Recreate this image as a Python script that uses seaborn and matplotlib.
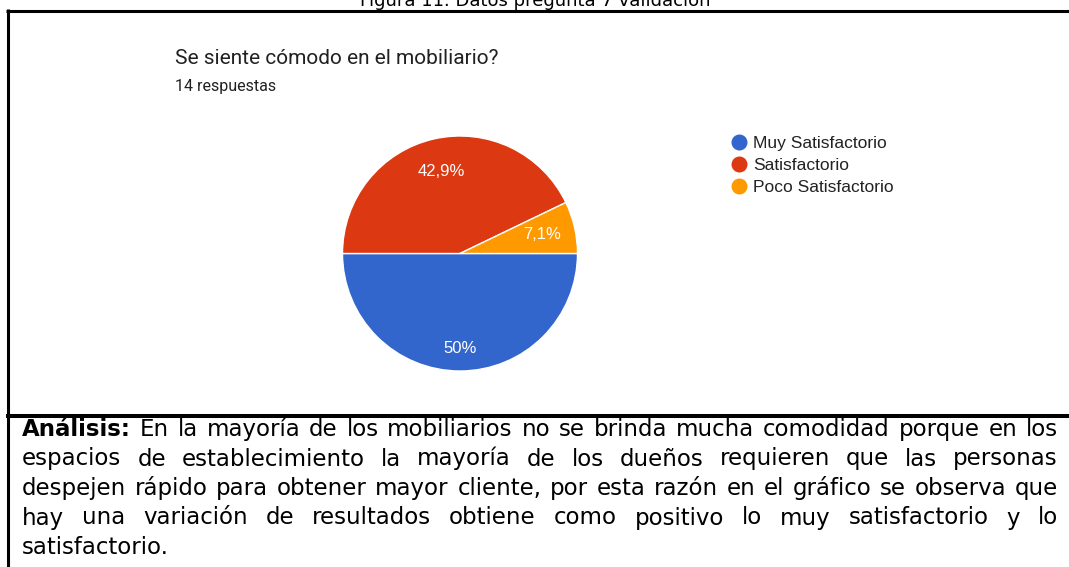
import matplotlib
matplotlib.use('Agg')
import matplotlib.pyplot as plt
from matplotlib.lines import Line2D
import seaborn as sns

sns.set_style('white')

# datos del gráfico
categorias = ['Muy Satisfactorio', 'Satisfactorio', 'Poco Satisfactorio']
respuestas = [7, 6, 1]
colores = ['#3366CC', '#DC3912', '#FF9900']

titulo_figura = 'Figura 11. Datos pregunta 7 validación'
pregunta = 'Se siente cómodo en el mobiliario?'
subtitulo = '14 respuestas'
analisis = [
    'Análisis: En la mayoría de los mobiliarios no se brinda mucha comodidad porque en los',
    'espacios de establecimiento la mayoría de los dueños requieren que las personas',
    'despejen rápido para obtener mayor cliente, por esta razón en el gráfico se observa que',
    'hay una variación de resultados obtiene como positivo lo muy satisfactorio y lo',
    'satisfactorio.',
]

W, H = 1069, 567


def fx(px):
    return px / W


def fy(py):
    return 1 - py / H


def pct(p):
    # formato con coma decimal como en Google Forms
    txt = f'{p:.1f}'.replace('.', ',')
    return txt.replace(',0', '') + '%'


fig = plt.figure(figsize=(W / 100, H / 100), dpi=100)
fig.patch.set_facecolor('white')

# marco del documento
fig.add_artist(Line2D([fx(6), fx(W)], [fy(10.5), fy(10.5)], color='black', lw=2.2,
                      solid_capstyle='butt', transform=fig.transFigure))
fig.add_artist(Line2D([fx(7.5), fx(7.5)], [fy(9), fy(H)], color='black', lw=2.2,
                      solid_capstyle='butt', transform=fig.transFigure))
fig.add_artist(Line2D([fx(6), fx(W)], [fy(416), fy(416)], color='black', lw=2.9,
                      solid_capstyle='butt', transform=fig.transFigure))

# titulo de la figura (cortado arriba, como en la captura)
fig.text(fx(535), fy(6), titulo_figura, ha='center', va='baseline', fontsize=13,
         family='DejaVu Sans', color='black')

# encabezado de Google Forms
fig.text(fx(175), fy(58), pregunta, ha='left', va='center', fontsize=15,
         family='Roboto', color='#212121')
fig.text(fx(175), fy(86), subtitulo, ha='left', va='center', fontsize=11.5,
         family='Roboto', color='#212121')

# pastel
cx, cy, r = 460, 253.5, 117.5
ax = fig.add_axes([fx(cx - r), fy(cy + r), 2 * r / W, 2 * r / H])
paleta = sns.color_palette(colores)
wedges, _, autotexts = ax.pie(
    respuestas, colors=paleta, startangle=0, counterclock=False,
    autopct=pct, pctdistance=0.72,
    wedgeprops=dict(edgecolor='white', linewidth=1),
    textprops=dict(color='white', fontsize=12, family='Liberation Sans'),
)
autotexts[0].set_position((0, -0.81))
ax.set_xlim(-1, 1)
ax.set_ylim(-1, 1)
ax.set_aspect('auto')
ax.axis('off')

# leyenda
handles = [Line2D([], [], marker='o', ls='', markersize=10.5, markerfacecolor=c,
                  markeredgecolor=c) for c in paleta]
fig.legend(handles, categorias, loc='upper left', bbox_to_anchor=(fx(733), fy(136)),
           frameon=False, borderpad=0, borderaxespad=0, handlelength=0.7,
           handletextpad=0.45, labelspacing=0.38,
           prop=dict(family='Liberation Sans', size=12.5), labelcolor='#222222')

# texto de analisis justificado
fig.canvas.draw()
renderer = fig.canvas.get_renderer()
x0, x1 = 22, 1058
baselines = [436, 465.5, 495, 524.5, 554]
fs = 16.5
fam = 'DejaVu Sans'
for i, linea in enumerate(analisis):
    palabras = linea.split(' ')
    textos = []
    for j, p in enumerate(palabras):
        negrita = (i == 0 and j == 0)
        t = fig.text(0, fy(baselines[i]), p, ha='left', va='baseline', fontsize=fs,
                     family=fam, fontweight='bold' if negrita else 'normal',
                     color='black')
        textos.append(t)
    anchos = [t.get_window_extent(renderer).width for t in textos]
    if i < len(analisis) - 1 and len(palabras) > 1:
        hueco = (x1 - x0 - sum(anchos)) / (len(palabras) - 1)
    else:
        esp = fig.text(0, 0, 'a a', fontsize=fs, family=fam)
        esp2 = fig.text(0, 0, 'aa', fontsize=fs, family=fam)
        hueco = esp.get_window_extent(renderer).width - esp2.get_window_extent(renderer).width
        esp.remove()
        esp2.remove()
    x = x0
    for t, a in zip(textos, anchos):
        t.set_x(fx(x))
        x += a + hueco

fig.savefig('out.png', dpi=100)
plt.close()
